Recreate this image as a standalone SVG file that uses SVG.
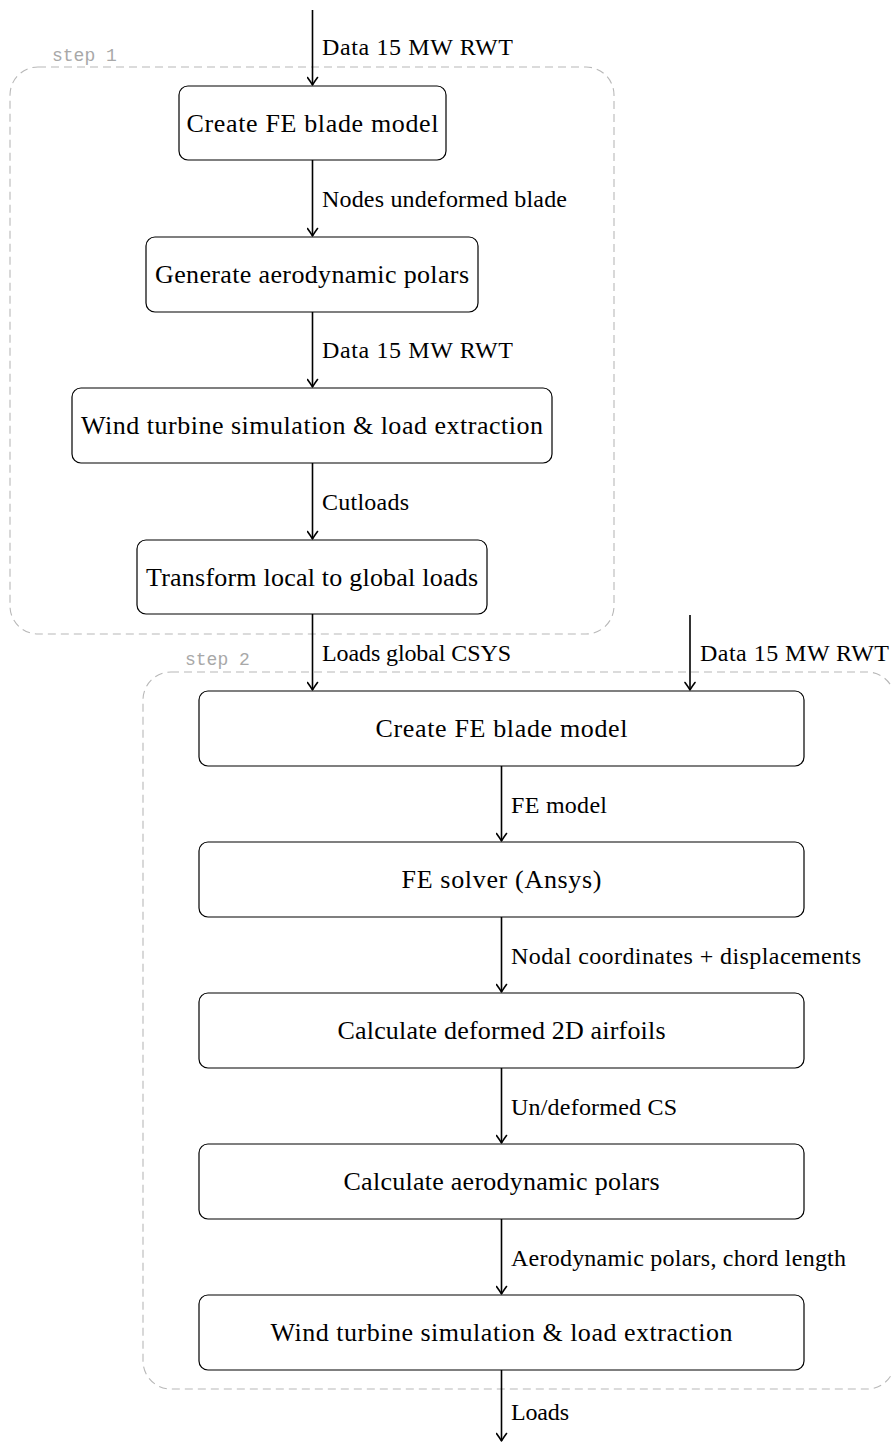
<svg xmlns="http://www.w3.org/2000/svg" width="891" height="1442" viewBox="0 0 891 1442">
<defs>
<marker id="arr" viewBox="-9 -6 11 12" refX="0" refY="0" markerWidth="11" markerHeight="12" markerUnits="userSpaceOnUse" orient="auto">
<path d="M -7.5,-5 Q -2.5,-1.3 0,0 Q -2.5,1.3 -7.5,5" fill="none" stroke="#000" stroke-width="1.6" stroke-linecap="round" stroke-linejoin="round"/>
</marker>
</defs>
<style>
.grp{fill:none;stroke:#b8b8b8;stroke-width:1.1;stroke-dasharray:8 5}
.steplbl{font-family:"Liberation Mono",monospace;font-size:18px;fill:#a8a8a8}
.box{fill:#fff;stroke:#000;stroke-width:1.2}
.nt{font-family:"Liberation Serif",serif;font-size:26px;fill:#000;text-anchor:middle}
.lbl{font-family:"Liberation Serif",serif;font-size:24px;fill:#000}
.edge{stroke:#000;stroke-width:1.6;fill:none;marker-end:url(#arr)}
</style>
<rect width="891" height="1442" fill="#fff"/>
<g id="step1">
<rect class="grp" x="10" y="67" width="604" height="567" rx="28"/>
<text class="steplbl" x="52" y="61">step 1</text>
</g>
<g id="step2">
<rect class="grp" x="143" y="672" width="752" height="717" rx="28"/>
<text class="steplbl" x="185" y="665">step 2</text>
</g>
<g id="n1"><rect class="box" x="179" y="86" width="267" height="74" rx="9"/><text class="nt" x="312.5" y="132" textLength="252">Create FE blade model</text></g>
<g id="n2"><rect class="box" x="146" y="237" width="332" height="75" rx="9"/><text class="nt" x="312" y="283" textLength="314">Generate aerodynamic polars</text></g>
<g id="n3"><rect class="box" x="72" y="388" width="480" height="75" rx="9"/><text class="nt" x="312" y="434" textLength="462">Wind turbine simulation &amp; load extraction</text></g>
<g id="n4"><rect class="box" x="137" y="540" width="350" height="74" rx="9"/><text class="nt" x="312" y="586" textLength="332">Transform local to global loads</text></g>
<g id="nA"><rect class="box" x="199" y="691" width="605" height="75" rx="9"/><text class="nt" x="501.5" y="737" textLength="252">Create FE blade model</text></g>
<g id="nB"><rect class="box" x="199" y="842" width="605" height="75" rx="9"/><text class="nt" x="501.5" y="888" textLength="200">FE solver (Ansys)</text></g>
<g id="nC"><rect class="box" x="199" y="993" width="605" height="75" rx="9"/><text class="nt" x="501.5" y="1039" textLength="328">Calculate deformed 2D airfoils</text></g>
<g id="nD"><rect class="box" x="199" y="1144" width="605" height="75" rx="9"/><text class="nt" x="501.5" y="1190" textLength="316">Calculate aerodynamic polars</text></g>
<g id="nE"><rect class="box" x="199" y="1295" width="605" height="75" rx="9"/><text class="nt" x="501.5" y="1341" textLength="462">Wind turbine simulation &amp; load extraction</text></g>
<g id="connectors">
<line class="edge" x1="312.5" y1="10" x2="312.5" y2="85"/>
<line class="edge" x1="312.5" y1="160" x2="312.5" y2="236"/>
<line class="edge" x1="312.5" y1="312" x2="312.5" y2="387"/>
<line class="edge" x1="312.5" y1="463" x2="312.5" y2="539"/>
<line class="edge" x1="312.5" y1="614" x2="312.5" y2="690"/>
<line class="edge" x1="690" y1="615" x2="690" y2="690"/>
<line class="edge" x1="501.5" y1="766" x2="501.5" y2="841"/>
<line class="edge" x1="501.5" y1="917" x2="501.5" y2="992"/>
<line class="edge" x1="501.5" y1="1068" x2="501.5" y2="1143"/>
<line class="edge" x1="501.5" y1="1219" x2="501.5" y2="1294"/>
<line class="edge" x1="501.5" y1="1370" x2="501.5" y2="1441"/>
<text class="lbl" x="322" y="55" textLength="191">Data 15 MW RWT</text>
<text class="lbl" x="322" y="207" textLength="245">Nodes undeformed blade</text>
<text class="lbl" x="322" y="358" textLength="191">Data 15 MW RWT</text>
<text class="lbl" x="322" y="510" textLength="87">Cutloads</text>
<text class="lbl" x="322" y="661" textLength="189">Loads global CSYS</text>
<text class="lbl" x="700" y="661" textLength="189">Data 15 MW RWT</text>
<text class="lbl" x="511" y="813" textLength="96">FE model</text>
<text class="lbl" x="511" y="964" textLength="350">Nodal coordinates + displacements</text>
<text class="lbl" x="511" y="1115" textLength="166">Un/deformed CS</text>
<text class="lbl" x="511" y="1266" textLength="335">Aerodynamic polars, chord length</text>
<text class="lbl" x="511" y="1420" textLength="58">Loads</text>
</g>
</svg>
